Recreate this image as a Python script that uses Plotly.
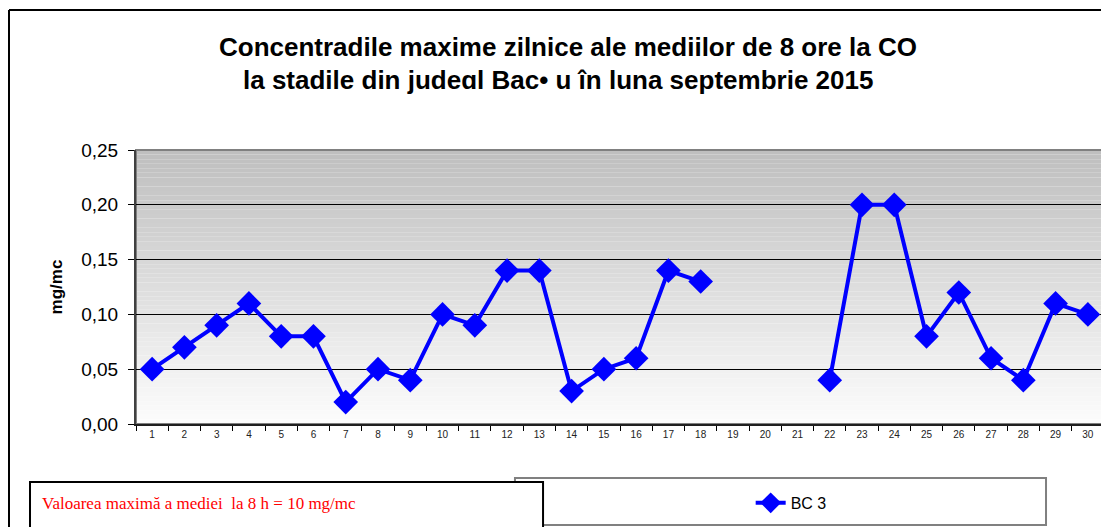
import plotly.graph_objects as go

# daily maxima of 8h averages, CO, station BC 3 (days 19-21 missing)
days = [str(d) for d in range(1, 31)]
bc3 = [0.05, 0.07, 0.09, 0.11, 0.08, 0.08, 0.02, 0.05, 0.04, 0.10,
       0.09, 0.14, 0.14, 0.03, 0.05, 0.06, 0.14, 0.13, None, None,
       None, 0.04, 0.20, 0.20, 0.08, 0.12, 0.06, 0.04, 0.11, 0.10]
y_ticks = [0.0, 0.05, 0.10, 0.15, 0.20, 0.25]

title_1 = "Concentradile maxime zilnice ale mediilor de 8 ore la CO"
title_2 = "la stadile din judeɑl Bac• u în luna septembrie 2015"
note = "Valoarea maximă a mediei  la 8 h = 10 mg/mc"

fig = go.Figure(
    go.Scatter(
        x=days,
        y=bc3,
        mode="lines+markers",
        name="BC 3",
        connectgaps=False,
        line=dict(color="#0000ff", width=4),
        marker=dict(symbol="diamond", size=19, color="#0000ff"),
    )
)

shapes = []
# gray-to-white gradient of the plot area
n_bands = 60
for i in range(n_bands):
    t = i / (n_bands - 1)
    g = int(253 - (253 - 191) * t)
    shapes.append(dict(
        type="rect", xref="x domain", yref="y domain",
        x0=0, x1=1, y0=i / n_bands, y1=(i + 1) / n_bands,
        fillcolor=f"rgb({g},{g},{g})", line=dict(width=0), layer="below",
    ))
# plot area border
shapes.append(dict(type="rect", xref="paper", yref="paper", x0=0, x1=1, y0=0, y1=1,
                   line=dict(color="#808080", width=2), layer="below"))
# outer chart frame (top and left edges visible)
shapes.append(dict(type="line", xref="paper", yref="paper", x0=-0.1312, x1=1.02,
                   y0=1.511, y1=1.511, line=dict(color="black", width=2)))
shapes.append(dict(type="line", xref="paper", yref="paper", x0=-0.1312, x1=-0.1312,
                   y0=1.511, y1=-0.42, line=dict(color="black", width=2)))
# legend box
shapes.append(dict(type="rect", xref="paper", yref="paper", x0=0.3915, x1=0.9401,
                   y0=-0.3686, y1=-0.197, fillcolor="white",
                   line=dict(color="#808080", width=2)))
# note box
shapes.append(dict(type="rect", xref="paper", yref="paper", x0=-0.1095, x1=0.4205,
                   y0=-0.42, y1=-0.2117, fillcolor="white",
                   line=dict(color="black", width=2)))

# page body has an 8px margin, so the figure is 8px smaller than the window
fig.update_layout(
    width=1101,
    height=519,
    margin=dict(l=128, r=5, t=142, b=103),
    paper_bgcolor="white",
    plot_bgcolor="white",
    separators=", ",
    font=dict(family="Liberation Sans, Arial, sans-serif", color="black"),
    shapes=shapes,
    showlegend=True,
    legend=dict(
        x=0.635, y=-0.288, xanchor="left", yanchor="middle",
        bgcolor="rgba(0,0,0,0)", borderwidth=0,
        font=dict(size=16, family="Liberation Sans, Arial, sans-serif"),
    ),
    annotations=[
        dict(text="<b>" + title_1 + "</b>", xref="paper", yref="paper",
             x=0.446, y=(424 - 47) / 274, showarrow=False, yanchor="middle",
             font=dict(size=26, family="Liberation Sans, Arial, sans-serif")),
        dict(text="<b>" + title_2 + "</b>", xref="paper", yref="paper",
             x=0.436, y=(424 - 80) / 274, showarrow=False, yanchor="middle",
             font=dict(size=26, family="Liberation Sans, Arial, sans-serif")),
        dict(text=note, xref="paper", yref="paper",
             x=(40 - 136) / 968, y=(424 - 503) / 274, xanchor="left", yanchor="middle",
             showarrow=False,
             font=dict(size=17, color="#ff0000", family="Liberation Serif, Times New Roman, serif")),
    ],
    xaxis=dict(
        type="category",
        range=[-0.5, 29.5],
        tickson="boundaries",
        ticks="outside",
        ticklen=5,
        tickcolor="black",
        showline=True,
        linecolor="#202020",
        linewidth=2,
        showgrid=False,
        tickfont=dict(size=10, color="#222222"),
    ),
    yaxis=dict(
        range=[0, 0.25],
        tickvals=y_ticks,
        tickformat=".2f",
        ticks="outside",
        ticklen=6,
        tickcolor="black",
        ticklabelstandoff=6,
        showline=True,
        linecolor="#404040",
        linewidth=2,
        showgrid=True,
        gridcolor="black",
        gridwidth=1,
        zeroline=False,
        tickfont=dict(size=19, color="black"),
        title=dict(text="<b>mg/mc</b>", font=dict(size=17), standoff=14),
    ),
)

fig.write_html("out.html")
